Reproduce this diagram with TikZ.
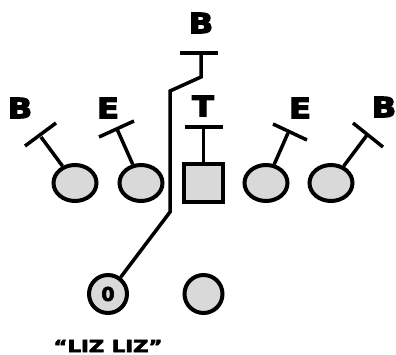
\documentclass[tikz,border=0pt]{standalone}
\usepackage{fontspec}
\usetikzlibrary{shapes.geometric}
\newfontfamily\heavy{DejaVu Sans}[BoldFeatures={FakeBold=4}]
\newfontfamily\heavysmall{DejaVu Sans}[BoldFeatures={FakeBold=3.5}]
\definecolor{playerfill}{HTML}{D9D9D9}
\tikzset{
  ink/.style={line width=4pt, draw=black},
  lineman/.style={ellipse, ink, fill=playerfill, inner sep=0pt, minimum width=43pt, minimum height=36pt},
  center/.style={rectangle, ink, fill=playerfill, inner sep=0pt, minimum width=39pt, minimum height=38pt},
  back/.style={circle, ink, fill=playerfill, inner sep=0pt, minimum size=38pt, font=\heavysmall\bfseries\fontsize{19}{19}\selectfont},
  tag/.style={inner sep=0pt, xscale=1.15, font=\heavy\bfseries\fontsize{28}{28}\selectfont},
  block/.style={line width=3.5pt, draw=black, line cap=butt},
}
\begin{document}
\begin{tikzpicture}[x=1pt, y=-1pt]
\useasboundingbox (0,0) rectangle (396,355);

% offensive line
\node[lineman] (lt) at (75,183) {};
\node[lineman] (lg) at (141,183) {};
\node[center]  (c)  at (203.5,183) {};
\node[lineman] (rg) at (266,183) {};
\node[lineman] (rt) at (331,183) {};

% backfield
\node[back] (qb) at (108,294) {0};
\node[back] (hb) at (203.5,294) {};

% defender labels
\node[tag] (b1) at (20,108) {B};
\node[tag] (e1) at (108,108) {E};
\node[tag] (t1) at (203,106) {T};
\node[tag] (e2) at (300,108) {E};
\node[tag] (b2) at (384,107) {B};
\node[tag] (b3) at (201,23) {B};

% play name
\node[inner sep=0pt, xscale=1.25, font=\heavysmall\bfseries\fontsize{17}{17}\selectfont] (name) at (108,346) {“LIZ LIZ”};

% block bars
\coordinate (lta) at (25,146);  \coordinate (ltb) at (56,123);  \coordinate (ltm) at (41,137);
\coordinate (lga) at (99,137);  \coordinate (lgb) at (134,121); \coordinate (lgm) at (117,129);
\coordinate (ca)  at (185,127); \coordinate (cb)  at (223,127); \coordinate (cm)  at (203.5,127);
\coordinate (rga) at (273,124); \coordinate (rgb) at (307,140); \coordinate (rgm) at (288,133);
\coordinate (rta) at (353,123); \coordinate (rtb) at (383,147); \coordinate (rtm) at (367,135);
\coordinate (qba) at (180,53);  \coordinate (qbb) at (218,53);  \coordinate (qbm) at (201,53);

\draw[block] (lta) -- (ltb);  \draw[block] (ltm) -- (lt);
\draw[block] (lga) -- (lgb);  \draw[block] (lgm) -- (lg);
\draw[block] (ca) -- (cb);    \draw[block] (cm) -- (c);
\draw[block] (rga) -- (rgb);  \draw[block] (rgm) -- (rg);
\draw[block] (rta) -- (rtb);  \draw[block] (rtm) -- (rt);

% quarterback route through the line
\coordinate (r1) at (170,212);
\coordinate (r2) at (170,91);
\coordinate (r3) at (201,77);
\draw[block] (qba) -- (qbb);
\draw[block, line join=miter] (qb) -- (r1) -- (r2) -- (r3) -- (qbm);
\end{tikzpicture}
\end{document}
